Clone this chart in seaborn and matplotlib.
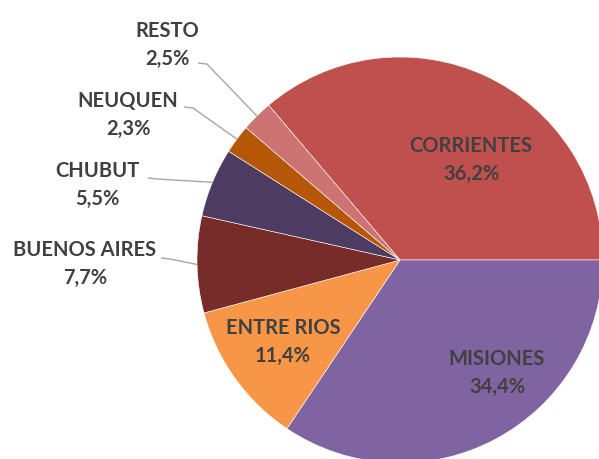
import numpy as np
import matplotlib
matplotlib.use("Agg")
import matplotlib.pyplot as plt
import seaborn as sns

# data (clockwise order, as in the reference)
provinces = ["CORRIENTES", "MISIONES", "ENTRE RIOS", "BUENOS AIRES", "CHUBUT", "NEUQUEN", "RESTO"]
shares = [36.2, 34.4, 11.4, 7.7, 5.5, 2.3, 2.5]
colors = ["#C0504D", "#8064A2", "#F79646", "#772C2A", "#4D3B62", "#B65708", "#CD7371"]

sns.set_theme(style="white")
plt.rcParams["font.family"] = ["Lato", "DejaVu Sans"]

W, H = 599, 459
CX, CY, R = 400, 260, 203  # pie centre / radius in pixels


def px(x, y):
    return (x - CX) / R, (CY - y) / R


fig = plt.figure(figsize=(W / 100, H / 100), dpi=100)
ax = fig.add_axes([0, 0, 1, 1])

# first slice ends at 3 o'clock, going clockwise
start = 360 * shares[0] / sum(shares)
wedges, _ = ax.pie(shares, colors=colors, startangle=start, counterclock=False,
                   wedgeprops=dict(linewidth=0.4, edgecolor="white"))

ax.set_xlim(-CX / R, (W - CX) / R)
ax.set_ylim(-(H - CY) / R, CY / R)

text_color = "#404040"
fmt = lambda v: f"{v:.1f}".replace(".", ",") + "%"

# labels inside the big slices (pixel centre of the text block)
inside = {"CORRIENTES": (471, 160), "MISIONES": (497, 373), "ENTRE RIOS": (283, 342)}
# labels outside with leader lines: text centre, leader start
outside = {
    "RESTO": ((167, 45), (198, 63)),
    "NEUQUEN": ((128, 115), (184, 107)),
    "CHUBUT": ((97, 185), (148, 178)),
    "BUENOS AIRES": ((85, 264), (161, 258)),
}

for w, name, val in zip(wedges, provinces, shares):
    label = f"{name}\n{fmt(val)}"
    if name in inside:
        x, y = px(*inside[name])
    else:
        (tx, ty), (sx, sy) = outside[name]
        x, y = px(tx, ty)
        mid = np.deg2rad((w.theta1 + w.theta2) / 2)
        ex, ey = np.cos(mid), np.sin(mid)
        x0, y0 = px(sx, sy)
        x1, y1 = px(sx + 9, sy + 1)
        ax.plot([x0, x1, ex], [y0, y1, ey], color="#A6A6A6", lw=1.0,
                solid_capstyle="butt")
    ax.text(x, y, label, ha="center", va="center", fontsize=14.5,
            fontweight="bold", color=text_color, linespacing=1.45)

fig.savefig("out.png", dpi=100)
